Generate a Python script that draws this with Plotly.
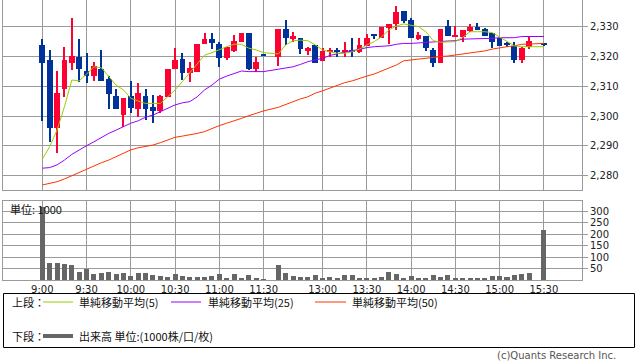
import plotly.graph_objects as go

# ---------------- data ----------------
times = ["9:00", "9:05", "9:10", "9:15", "9:20", "9:25", "9:30", "9:35", "9:40", "9:45",
         "9:50", "9:55", "10:00", "10:05", "10:10", "10:15", "10:20", "10:25", "10:30", "10:35",
         "10:40", "10:45", "10:50", "10:55", "11:00", "11:05", "11:10", "11:15", "11:20", "11:25",
         "11:30",
         "12:30", "12:35", "12:40", "12:45", "12:50", "12:55", "13:00", "13:05", "13:10", "13:15",
         "13:20", "13:25", "13:30", "13:35", "13:40", "13:45", "13:50", "13:55", "14:00", "14:05",
         "14:10", "14:15", "14:20", "14:25", "14:30", "14:35", "14:40", "14:45", "14:50", "14:55",
         "15:00", "15:05", "15:10", "15:15", "15:20", "15:25", "15:30"]

open_ = [2323.7, 2318.7, 2295.9, 2308.9, 2317.8, 2319.8, 2315.1, 2313.3, 2315.7, 2312.2,
         2306.7, 2300.3, 2306.7, 2302.4, 2306.7, 2303.1, 2301.8, 2306.4, 2315.7, 2319.0,
         2314.4, 2314.8, 2323.9, 2325.7, 2324.0, 2319.2, 2321.8, 2324.8, 2327.7, 2315.7,
         2320.0,
         2319.8, 2329.0, 2325.6, 2325.9, 2321.7, 2323.7, 2318.3, 2321.2, 2322.0, 2321.2,
         2322.0, 2321.2, 2323.4, 2326.7, 2325.9, 2329.4, 2330.6, 2335.0, 2332.0, 2325.8,
         2326.7, 2322.0, 2317.8, 2330.0, 2326.4, 2326.4, 2328.3, 2329.6, 2328.9, 2327.6,
         2325.9, 2323.9, 2323.3, 2318.7, 2322.9, None, 2323.7]
high = [2325.7, 2322.0, 2315.1, 2323.1, 2332.8, 2325.7, 2321.1, 2317.9, 2322.0, 2313.3,
        2308.9, 2306.1, 2311.7, 2310.9, 2308.9, 2307.0, 2307.0, 2315.7, 2322.8, 2320.9,
        2317.9, 2324.0, 2327.8, 2327.8, 2324.8, 2323.1, 2327.0, 2327.7, 2327.7, 2319.8,
        2320.0,
        2329.0, 2332.0, 2328.1, 2325.9, 2323.1, 2323.7, 2322.8, 2322.6, 2322.6, 2324.7,
        2326.1, 2326.1, 2327.2, 2327.2, 2329.8, 2330.7, 2336.7, 2335.0, 2332.6, 2327.9,
        2326.7, 2322.6, 2329.0, 2332.0, 2330.0, 2328.7, 2330.7, 2330.9, 2329.4, 2327.6,
        2325.9, 2324.8, 2324.8, 2323.1, 2326.7, None, 2324.4]
low = [2298.4, 2291.4, 2287.6, 2306.4, 2315.3, 2311.4, 2310.9, 2311.8, 2311.6, 2302.4,
       2302.2, 2296.4, 2300.9, 2299.8, 2298.7, 2297.8, 2300.9, 2306.4, 2315.7, 2312.0,
       2311.4, 2314.8, 2323.9, 2322.3, 2316.4, 2318.7, 2321.4, 2324.6, 2315.3, 2314.6,
       2320.0,
       2316.8, 2323.7, 2324.8, 2320.7, 2320.3, 2317.8, 2318.3, 2319.6, 2319.8, 2319.8,
       2319.8, 2320.9, 2323.4, 2325.6, 2325.9, 2323.9, 2328.7, 2330.9, 2325.9, 2325.3,
       2321.8, 2316.4, 2317.6, 2326.8, 2326.4, 2324.8, 2327.9, 2328.7, 2326.7, 2322.8,
       2323.3, 2323.1, 2317.8, 2317.6, 2322.3, None, 2323.4]
close = [2317.6, 2295.9, 2307.8, 2318.7, 2320.0, 2315.7, 2313.3, 2316.8, 2311.8, 2307.4,
         2302.4, 2306.1, 2302.6, 2307.6, 2302.4, 2301.8, 2306.7, 2315.7, 2318.7, 2314.4,
         2315.9, 2324.0, 2325.7, 2324.4, 2319.2, 2323.1, 2325.0, 2327.7, 2315.7, 2318.1,
         2320.0,
         2329.0, 2325.9, 2326.7, 2322.3, 2322.6, 2317.8, 2321.7, 2322.0, 2321.2, 2322.0,
         2321.4, 2323.7, 2326.1, 2326.7, 2329.8, 2330.7, 2334.7, 2331.8, 2325.9, 2327.0,
         2322.8, 2317.8, 2329.0, 2326.8, 2327.0, 2328.7, 2329.6, 2328.7, 2326.8, 2324.8,
         2323.3, 2323.9, 2318.7, 2322.8, 2325.0, None, 2323.7]

ma5 = [2285.6, 2289.8, 2295.3, 2303.1, 2312.0, 2311.7, 2314.0, 2316.4, 2316.1, 2313.1,
       2310.3, 2308.7, 2305.9, 2305.0, 2304.2, 2304.2, 2304.2, 2306.4, 2308.7, 2311.5,
       2314.4, 2317.6, 2320.3, 2321.1, 2322.2, 2323.1, 2323.9, 2323.9, 2322.6, 2322.0,
       2321.1,
       2320.7, 2323.7, 2325.1, 2325.3, 2325.1, 2323.7, 2322.0, 2321.4, 2320.9, 2320.9,
       2321.4, 2322.3, 2323.7, 2324.8, 2326.4, 2328.7, 2330.0, 2330.7, 2330.3, 2329.8,
       2328.1, 2325.1, 2324.6, 2324.8, 2324.8, 2326.2, 2328.1, 2328.1, 2328.1, 2327.8,
       2326.4, 2325.0, 2323.4, 2323.1, 2323.1, None, 2323.1]
ma25 = [2282.6, 2282.8, 2283.7, 2285.3, 2287.2, 2288.7, 2290.1, 2291.4, 2292.9, 2294.2,
        2295.3, 2296.4, 2297.6, 2298.4, 2299.6, 2300.3, 2301.4, 2302.6, 2303.7, 2304.4,
        2304.8, 2306.4, 2308.7, 2310.3, 2312.3, 2313.3, 2314.2, 2315.0, 2314.8, 2314.8,
        2314.8,
        2315.6, 2315.9, 2316.4, 2317.2, 2318.1, 2318.7, 2319.2, 2320.2, 2320.8, 2321.4,
        2321.8, 2322.2, 2322.8, 2323.1, 2323.3, 2323.4, 2323.9, 2324.2, 2324.2, 2324.4,
        2324.6, 2324.8, 2325.0, 2325.0, 2325.1, 2325.6, 2325.7, 2325.7, 2325.9, 2325.9,
        2326.1, 2326.1, 2326.1, 2326.5, 2326.5, None, 2326.5]
ma50 = [2277.0, 2277.6, 2278.1, 2279.0, 2280.1, 2281.1, 2282.3, 2283.4, 2284.4, 2285.3,
        2286.4, 2287.6, 2288.7, 2289.4, 2289.8, 2290.3, 2291.1, 2292.0, 2292.9, 2293.3,
        2293.7, 2294.2, 2294.8, 2295.9, 2296.8, 2297.6, 2298.3, 2299.2, 2300.1, 2300.9,
        2301.7,
        2302.9, 2303.9, 2304.8, 2305.7, 2306.4, 2307.6, 2308.4, 2309.3, 2310.2, 2311.1,
        2311.7, 2312.6, 2313.3, 2314.0, 2315.0, 2315.9, 2317.0, 2318.4, 2318.7, 2319.0,
        2319.4, 2319.6, 2319.8, 2320.0, 2320.3, 2320.7, 2320.9, 2321.2, 2321.7, 2322.3,
        2322.8, 2323.1, 2323.4, 2323.9, 2324.0, None, 2324.2]

volume = [320, 75, 75, 71, 66, 35, 49, 28, 31, 35,
          28, 31, 19, 31, 31, 22, 18, 13, 25, 18,
          15, 15, 15, 18, 27, 6, 25, 6, 22, 9,
          1,
          66, 31, 19, 15, 15, 22, 7, 15, 10, 22,
          22, 10, 10, 10, 15, 35, 27, 10, 18, 10,
          10, 22, 15, 22, 10, 10, 10, 10, 10, 18,
          18, 15, 22, 27, 31, None, 219]

tick_times = ["9:00", "9:30", "10:00", "10:30", "11:00", "11:30",
              "13:00", "13:30", "14:00", "14:30", "15:00", "15:30"]
price_ticks = [2280, 2290, 2300, 2310, 2320, 2330]
volume_ticks = [50, 100, 150, 200, 250, 300]

# ---------------- helpers ----------------
def slot(t):
    h, m = map(int, t.split(":"))
    mins = h * 60 + m
    if mins <= 11 * 60 + 30:
        return (mins - 9 * 60) / 5
    return (mins - (12 * 60 + 30)) / 5 + 32

xs = [slot(t) for t in times]
RED = "#FF0033"
BLUE = "#003399"
GRID = "#9A9A9A"

cx, cbase, cheight, ccol = [], [], [], []
wbase, wheight = [], []
for x, o, h, l, c in zip(xs, open_, high, low, close):
    if o is None:
        continue
    col = RED if c > o else BLUE
    cx.append(x)
    cbase.append(min(o, c))
    cheight.append(max(abs(c - o), 0.35))
    ccol.append(col)
    wbase.append(l)
    wheight.append(max(h - l, 0.35))

fig = go.Figure()

# wicks
fig.add_trace(go.Bar(x=cx, y=wheight, base=wbase, width=0.14,
                     marker=dict(color=ccol, line=dict(width=0)),
                     xaxis="x", yaxis="y", showlegend=False, hoverinfo="skip"))
# bodies
fig.add_trace(go.Bar(x=cx, y=cheight, base=cbase, width=0.78,
                     marker=dict(color=ccol, line=dict(width=0)),
                     xaxis="x", yaxis="y", showlegend=False))
# moving averages
for vals, col in [(ma50, "#FF3300"), (ma25, "#9900FF"), (ma5, "#99CC00")]:
    fig.add_trace(go.Scatter(x=xs, y=vals, mode="lines", connectgaps=True,
                             line=dict(color=col, width=1),
                             xaxis="x", yaxis="y", showlegend=False))
# volume
fig.add_trace(go.Bar(x=xs, y=volume, width=0.68,
                     marker=dict(color="#666666", line=dict(width=0)),
                     xaxis="x2", yaxis="y2", showlegend=False))

W, H = 638, 362
L, R, T, B = 3, 56, 0, 82
PW, PH = W - L - R, H - T - B

def px_x(p):
    return (p - L) / PW

def px_y(p):
    return (H - B - p) / PH

xmin = -5.33
xmax = 73.17
tickvals = [slot(t) for t in tick_times]

axis_common = dict(showline=True, linecolor=GRID, linewidth=1, mirror=True,
                   showgrid=True, gridcolor=GRID, gridwidth=1, zeroline=False,
                   automargin=False)

fig.update_layout(
    width=W, height=H,
    margin=dict(l=L, r=R, t=T, b=B, autoexpand=False),
    paper_bgcolor="white", plot_bgcolor="white",
    barmode="overlay", bargap=0,
    font=dict(family="DejaVu Sans", size=10, color="#222222"),
    xaxis=dict(domain=[0, 1], range=[xmin, xmax], tickvals=tickvals,
               showticklabels=False, ticks="", anchor="y", **axis_common),
    yaxis=dict(domain=[1 - 190 / PH, 1], range=[2275.33, 2338.67], side="right",
               tickvals=price_ticks, tickformat=",d", ticks="outside", ticklen=5,
               tickcolor=GRID, anchor="x", **axis_common),
    xaxis2=dict(domain=[0, 1], range=[xmin, xmax], tickvals=tickvals, ticktext=tick_times,
                ticks="", anchor="y2", **axis_common),
    yaxis2=dict(domain=[0, 79 / PH], range=[0, 345], side="right",
                tickvals=volume_ticks, ticks="outside", ticklen=5, tickcolor=GRID,
                anchor="x2", **axis_common),
)

jp = "Noto Sans CJK JP"
ann = [
    dict(x=px_x(8), y=px_y(209), text="単位: 1000", xanchor="left", yanchor="middle",
         font=dict(family=jp, size=11, color="#111111")),
    dict(x=px_x(10), y=px_y(302), text="上段：", xanchor="left", yanchor="middle",
         font=dict(family=jp, size=11, color="#111111")),
    dict(x=px_x(77), y=px_y(302), text="単純移動平均(5)", xanchor="left", yanchor="middle",
         font=dict(family=jp, size=11, color="#111111")),
    dict(x=px_x(206), y=px_y(302), text="単純移動平均(25)", xanchor="left", yanchor="middle",
         font=dict(family=jp, size=11, color="#111111")),
    dict(x=px_x(350), y=px_y(302), text="単純移動平均(50)", xanchor="left", yanchor="middle",
         font=dict(family=jp, size=11, color="#111111")),
    dict(x=px_x(10), y=px_y(336), text="下段：", xanchor="left", yanchor="middle",
         font=dict(family=jp, size=11, color="#111111")),
    dict(x=px_x(77), y=px_y(336), text="出来高 単位:(1000株/口/枚)", xanchor="left",
         yanchor="middle", font=dict(family=jp, size=11, color="#111111")),
    dict(x=px_x(618), y=px_y(355), text="(c)Quants Research Inc.", xanchor="right",
         yanchor="middle", font=dict(family="DejaVu Sans", size=10, color="#555555")),
]
for a in ann:
    a.update(xref="paper", yref="paper", showarrow=False)
fig.update_layout(annotations=ann)

shapes = [
    dict(type="rect", x0=px_x(3.5), x1=px_x(634.5), y0=px_y(293.5), y1=px_y(347.5),
         line=dict(color="#000000", width=1)),
    dict(type="line", x0=px_x(43), x1=px_x(73), y0=px_y(302), y1=px_y(302),
         line=dict(color="#99CC00", width=1)),
    dict(type="line", x0=px_x(171), x1=px_x(201), y0=px_y(302), y1=px_y(302),
         line=dict(color="#9900FF", width=1)),
    dict(type="line", x0=px_x(315), x1=px_x(346), y0=px_y(302), y1=px_y(302),
         line=dict(color="#FF3300", width=1)),
    dict(type="line", x0=px_x(43), x1=px_x(73), y0=px_y(336), y1=px_y(336),
         line=dict(color="#666666", width=4)),
]
for s in shapes:
    s.update(xref="paper", yref="paper")
fig.update_layout(shapes=shapes)

fig.write_html("out.html", config={"displayModeBar": False},
               post_script="document.body.style.margin='0px';")
